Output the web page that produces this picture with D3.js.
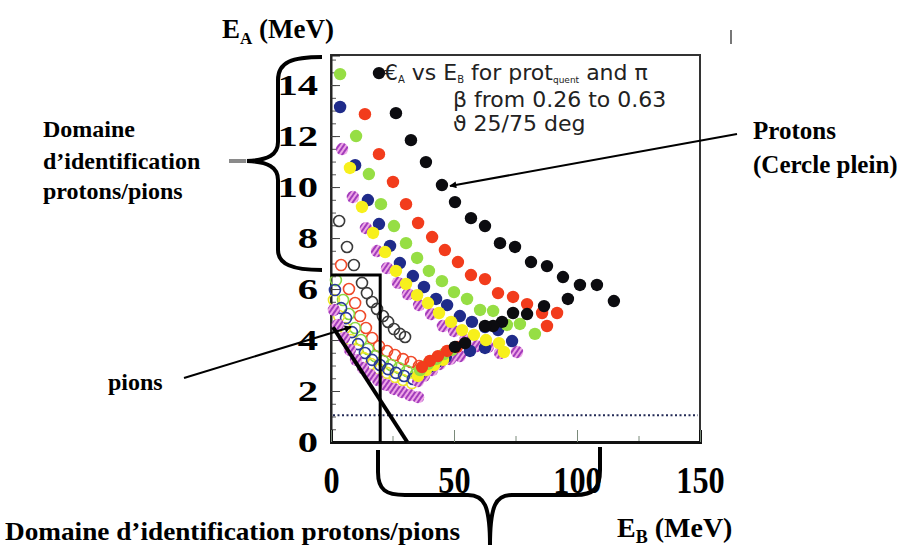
<!DOCTYPE html>
<html>
<head>
<meta charset="utf-8">
<script src="https://cdn.jsdelivr.net/npm/d3@7"></script>
<style>
  body { margin: 0; background: #fff; }
  svg text { font-family: "Liberation Serif", "Times New Roman", serif; font-weight: bold; fill: #000; }
  .legend text { font-family: "DejaVu Sans", sans-serif; font-weight: normal; fill: #222; }
</style>
</head>
<body>
<svg id="chart" width="906" height="549"></svg>
<script>
// values: [E_B (MeV), E_A (MeV)]
const protonBlack = [[19.5,14.47],[26.4,12.9],[32.5,11.84],[38.6,10.98],[45.1,10.08],[50.4,9.41],[56.9,8.78],[62.6,8.47],[68.7,7.8],[74.8,7.65],[81.3,7.06],[87.8,6.9],[94.3,6.47],[101.2,6.16],[108.1,6.16],[115.0,5.53],[96.3,5.61],[86.6,5.33],[79.7,5.02],[74.0,5.06],[69.5,4.71],[65.9,4.55],[62.6,4.55],[54.5,3.88],[50.4,3.73]];
const protonRed = [[13.8,12.86],[19.5,11.29],[25.2,10.2],[30.5,9.33],[35.4,8.59],[41.1,8.04],[46.3,7.53],[51.6,7.06],[56.9,6.55],[62.6,6.39],[67.9,5.84],[74.0,5.69],[79.7,5.41],[85.8,5.06],[91.9,5.06],[87.8,4.55],[51.2,3.73],[47.2,3.57],[43.5,3.37],[40.2,3.18],[37.0,2.94]];
const protonGreen = [[3.7,14.43],[10.2,12.0],[15.4,10.51],[20.3,9.33],[25.6,8.47],[30.5,7.8],[35.0,7.22],[39.8,6.71],[45.1,6.31],[50.0,5.88],[55.3,5.61],[60.6,5.18],[65.9,5.14],[71.5,4.59],[76.8,4.63],[82.9,4.24],[49.2,3.61],[45.9,3.45],[42.7,3.25],[39.4,3.06],[36.2,2.82]];
const protonBlue = [[3.7,13.14],[9.8,10.86],[15.0,9.49],[19.5,8.55],[24.0,7.69],[28.0,7.02],[33.3,6.51],[37.8,6.08],[42.7,5.61],[47.2,5.37],[52.4,4.94],[57.3,4.71],[62.6,4.51],[67.9,4.39],[73.6,3.96],[62.6,3.69],[56.5,3.57],[46.7,3.33],[43.1,3.14],[39.8,2.94],[36.2,2.71]];
const protonYellow = [[7.7,10.75],[12.6,9.22],[17.1,8.2],[22.0,7.45],[26.4,6.71],[30.5,6.2],[35.0,5.76],[39.4,5.45],[43.9,5.06],[48.8,4.71],[53.3,4.39],[58.1,4.2],[63.0,4.0],[68.3,3.88],[70.3,3.53],[45.5,3.22],[41.9,3.02],[38.6,2.82],[35.4,2.59]];
const protonMagenta = [[4.5,11.49],[8.9,9.61],[14.2,8.39],[18.7,7.49],[22.8,6.82],[27.2,6.24],[31.3,5.8],[35.8,5.37],[40.7,5.02],[45.5,4.55],[50.0,4.35],[54.5,4.0],[59.3,3.76],[63.8,3.73],[68.7,3.49],[75.6,3.53],[52.4,3.37],[48.4,3.25],[44.3,3.06],[41.1,2.82],[37.8,2.59],[35.4,2.39]];

const pionBlack = [[3.3,8.67],[6.5,7.65],[9.3,6.94],[12.6,6.24],[14.6,5.84],[16.7,5.49],[18.7,5.22],[21.1,4.94],[23.2,4.71],[25.6,4.43],[28.0,4.24],[30.1,4.12]];
const pionRed = [[4.1,6.94],[7.3,6.0],[9.8,5.45],[11.8,4.94],[14.2,4.47],[16.7,4.08],[19.5,3.76],[22.8,3.57],[26.0,3.41],[29.3,3.25],[32.5,3.14],[35.8,2.98]];
const pionGreen = [[2.0,6.35],[4.9,5.57],[7.3,5.02],[9.8,4.47],[12.2,4.0],[15.0,3.65],[17.9,3.37],[21.1,3.18],[24.4,3.02],[27.6,2.9],[30.9,2.78],[34.6,2.67]];
const pionBlue = [[1.6,5.96],[4.1,5.25],[6.1,4.86],[8.5,4.31],[11.0,3.84],[13.8,3.49],[16.7,3.22],[19.9,3.02],[23.2,2.86],[26.4,2.71],[29.7,2.59],[33.3,2.47]];
const pionYellow = [[1.2,5.57],[3.3,4.94],[5.7,4.47],[8.1,4.0],[10.6,3.61],[13.4,3.29],[16.3,3.06],[19.5,2.86],[22.8,2.71],[26.0,2.55],[29.3,2.43],[32.9,2.31]];
const pionMagenta = [[1.2,5.18],[2.8,4.59],[5.3,4.08],[7.7,3.61],[10.2,3.22],[13.0,2.9],[15.9,2.63],[19.1,2.43],[22.4,2.24],[25.6,2.08],[28.9,1.96],[32.1,1.84],[35.4,1.76]];

const xTicks = [0, 50, 100, 150];
const yTicks = [0, 2, 4, 6, 8, 10, 12, 14];
const thresholdEA = 1.05;       // dotted line
const boxCorner = [20, 6.55];   // identification box (E_B, E_A)
const cutLine = [[0, 4.5], [31, 0]];

const svg = d3.select("#chart");

const x = d3.scaleLinear().domain([0, 150]).range([331, 700]);
const y = d3.scaleLinear().domain([0, 15.18]).range([442, 55]);

// hatch for the striped magenta markers
const defs = svg.append("defs");
const pat = defs.append("pattern")
  .attr("id", "hatch")
  .attr("width", 4).attr("height", 4)
  .attr("patternUnits", "userSpaceOnUse")
  .attr("patternTransform", "rotate(35)");
pat.append("rect").attr("width", 4).attr("height", 4).attr("fill", "#eea6e6");
pat.append("rect").attr("width", 2).attr("height", 4).attr("fill", "#a23cbc");

defs.append("marker")
  .attr("id", "arrow")
  .attr("viewBox", "0 0 10 10")
  .attr("refX", 9).attr("refY", 5)
  .attr("markerWidth", 9).attr("markerHeight", 7)
  .attr("markerUnits", "userSpaceOnUse")
  .attr("orient", "auto")
  .append("path").attr("d", "M0,0 L10,5 L0,10 z").attr("fill", "#000");

// plot frame
svg.append("rect")
  .attr("x", x(0)).attr("y", y(15.18))
  .attr("width", x(150) - x(0)).attr("height", y(0) - y(15.18))
  .attr("fill", "none").attr("stroke", "#333").attr("stroke-width", 2);

// y axis: minor ticks inside, major ticks with labels
svg.append("g")
  .attr("transform", `translate(${x(0)},0)`)
  .call(d3.axisLeft(y).tickValues(d3.range(0, 15.01, 0.5)).tickSize(-5).tickFormat(""))
  .call((g) => g.select(".domain").remove())
  .selectAll("line").attr("stroke", "#555");

const yAxis = svg.append("g")
  .attr("transform", `translate(${x(0)},0)`)
  .call(d3.axisLeft(y).tickValues(yTicks).tickSize(-9).tickPadding(13));
yAxis.select(".domain").attr("stroke", "#222").attr("stroke-width", 2);
yAxis.selectAll("line").attr("stroke", "#444");
yAxis.selectAll("text")
  .attr("x", null)
  .attr("dy", "0.34em")
  .attr("transform", "translate(-13,0) scale(1.4,1)")
  .style("font-size", "29px")
  .style("font-family", "Liberation Serif, serif")
  .style("font-weight", "bold");

// x axis: inside ticks + labels
svg.append("g")
  .attr("transform", `translate(0,${y(0)})`)
  .call(d3.axisBottom(x).tickValues([25, 75, 125]).tickSize(-6).tickFormat(""))
  .call((g) => g.select(".domain").remove())
  .selectAll("line").attr("stroke", "#7a8a7a");

const xAxis = svg.append("g")
  .attr("transform", `translate(0,${y(0)})`)
  .call(d3.axisBottom(x).tickValues(xTicks).tickSize(-12).tickPadding(22));
xAxis.select(".domain").attr("stroke", "#111").attr("stroke-width", 3);
xAxis.selectAll("line").attr("stroke", "#7a8a7a");
xAxis.selectAll("text")
  .attr("y", 51)
  .attr("dy", null)
  .style("font-size", "38px")
  .style("font-family", "Liberation Serif, serif")
  .style("font-weight", "bold")
  .attr("transform", "scale(0.85,1)");

// dotted threshold
svg.append("line")
  .attr("x1", x(0) + 2).attr("x2", x(150) - 2)
  .attr("y1", y(thresholdEA)).attr("y2", y(thresholdEA))
  .attr("stroke", "#222a55").attr("stroke-width", 2)
  .attr("stroke-dasharray", "2,2.5");

// series
const series = [
  { data: pionBlack, stroke: "#3a3a3a", fill: "none" },
  { data: pionRed, stroke: "#f04a2a", fill: "none" },
  { data: pionGreen, stroke: "#88d640", fill: "none" },
  { data: pionYellow, stroke: "#ede62a", fill: "none" },
  { data: pionBlue, stroke: "#2a3a9a", fill: "none" },
  { data: pionMagenta, stroke: "none", fill: "url(#hatch)" },
  { data: protonMagenta, stroke: "none", fill: "url(#hatch)" },
  { data: protonBlue, stroke: "none", fill: "#1f2b8a" },
  { data: protonYellow, stroke: "none", fill: "#f7f01c" },
  { data: protonGreen, stroke: "none", fill: "#96de44" },
  { data: protonRed, stroke: "none", fill: "#f23c1c" },
  { data: protonBlack, stroke: "none", fill: "#0c0c10" }
];

series.forEach((s) => {
  svg.append("g")
    .selectAll("circle")
    .data(s.data)
    .enter()
    .append("circle")
    .attr("cx", (d) => x(d[0]))
    .attr("cy", (d) => y(d[1]))
    .attr("r", s.fill === "none" ? 5.5 : 6.2)
    .attr("fill", s.fill)
    .attr("stroke", s.stroke)
    .attr("stroke-width", 1.6);
});

// identification box and cut line
svg.append("path")
  .attr("d", `M${x(0)},${y(boxCorner[1])} H${x(boxCorner[0])} V${y(0)}`)
  .attr("fill", "none").attr("stroke", "#000").attr("stroke-width", 3);

svg.append("line")
  .attr("x1", x(cutLine[0][0]) + 2).attr("y1", y(cutLine[0][1]))
  .attr("x2", x(cutLine[1][0])).attr("y2", y(cutLine[1][1]))
  .attr("stroke", "#000").attr("stroke-width", 4);

// legend text inside the frame
const legend = svg.append("g").attr("class", "legend").style("font-size", "22px");
const l1 = legend.append("text").attr("x", 384).attr("y", 80);
l1.append("tspan").text("€");
l1.append("tspan").attr("dy", 3).style("font-size", "10px").text("A");
l1.append("tspan").attr("dy", -3).text(" vs E");
l1.append("tspan").attr("dy", 3).style("font-size", "10px").text("B");
l1.append("tspan").attr("dy", -3).text("  for prot");
l1.append("tspan").attr("dy", 3).style("font-size", "9px").text("quent");
l1.append("tspan").attr("dy", -3).text(" and π");
legend.append("text").attr("x", 453).attr("y", 107).text("β from 0.26 to 0.63");
legend.append("text").attr("x", 453).attr("y", 131).text("ϑ 25/75 deg");

// axis titles
const ta = svg.append("text").attr("x", 222).attr("y", 38).style("font-size", "27px");
ta.append("tspan").text("E");
ta.append("tspan").attr("dy", 6).style("font-size", "17px").text("A");
ta.append("tspan").attr("dy", -6).text(" (MeV)");

const tb = svg.append("text").attr("x", 617).attr("y", 537).style("font-size", "28px");
tb.append("tspan").text("E");
tb.append("tspan").attr("dy", 6).style("font-size", "18px").text("B");
tb.append("tspan").attr("dy", -6).text(" (MeV)");

// annotations
const left = svg.append("text").style("font-size", "24px");
left.append("tspan").attr("x", 43).attr("y", 137).text("Domaine");
left.append("tspan").attr("x", 43).attr("y", 169).text("d\u2019identification");
left.append("tspan").attr("x", 43).attr("y", 199).text("protons/pions");

svg.append("text").attr("x", 108).attr("y", 390).style("font-size", "24px").text("pions");

const prot = svg.append("text").style("font-size", "25px");
prot.append("tspan").attr("x", 753).attr("y", 139).text("Protons");
prot.append("tspan").attr("x", 753).attr("y", 173).text("(Cercle plein)");

svg.append("text")
  .attr("x", 5).attr("y", 540)
  .attr("textLength", 455).attr("lengthAdjust", "spacingAndGlyphs")
  .style("font-size", "25px")
  .text("Domaine d\u2019identification protons/pions");

// arrows
svg.append("line")
  .attr("x1", 737).attr("y1", 134).attr("x2", 450).attr("y2", 186)
  .attr("stroke", "#000").attr("stroke-width", 2).attr("marker-end", "url(#arrow)");
svg.append("line")
  .attr("x1", 184).attr("y1", 378).attr("x2", 351).attr("y2", 327)
  .attr("stroke", "#000").attr("stroke-width", 2).attr("marker-end", "url(#arrow)");

// braces
svg.append("path")
  .attr("d", "M322,57 C292,57 278,62 278,80 L278,142 C278,155 268,160 247,161 C268,162 278,167 278,180 L278,250 C278,264 292,270 322,270")
  .attr("fill", "none").attr("stroke", "#000").attr("stroke-width", 4);
svg.append("line")
  .attr("x1", 229).attr("y1", 161).attr("x2", 246).attr("y2", 161)
  .attr("stroke", "#8a8a8a").attr("stroke-width", 4);

svg.append("path")
  .attr("d", "M378,450 L378,472 C378,490 386,495 405,495 L468,495 C484,495 490,505 490,545 C490,505 496,495 512,495 L575,495 C594,495 600,488 600,470 L600,447")
  .attr("fill", "none").attr("stroke", "#000").attr("stroke-width", 4);

// stray scan mark top right
svg.append("line")
  .attr("x1", 731).attr("y1", 30).attr("x2", 731).attr("y2", 44)
  .attr("stroke", "#777").attr("stroke-width", 2);
</script>
</body>
</html>
